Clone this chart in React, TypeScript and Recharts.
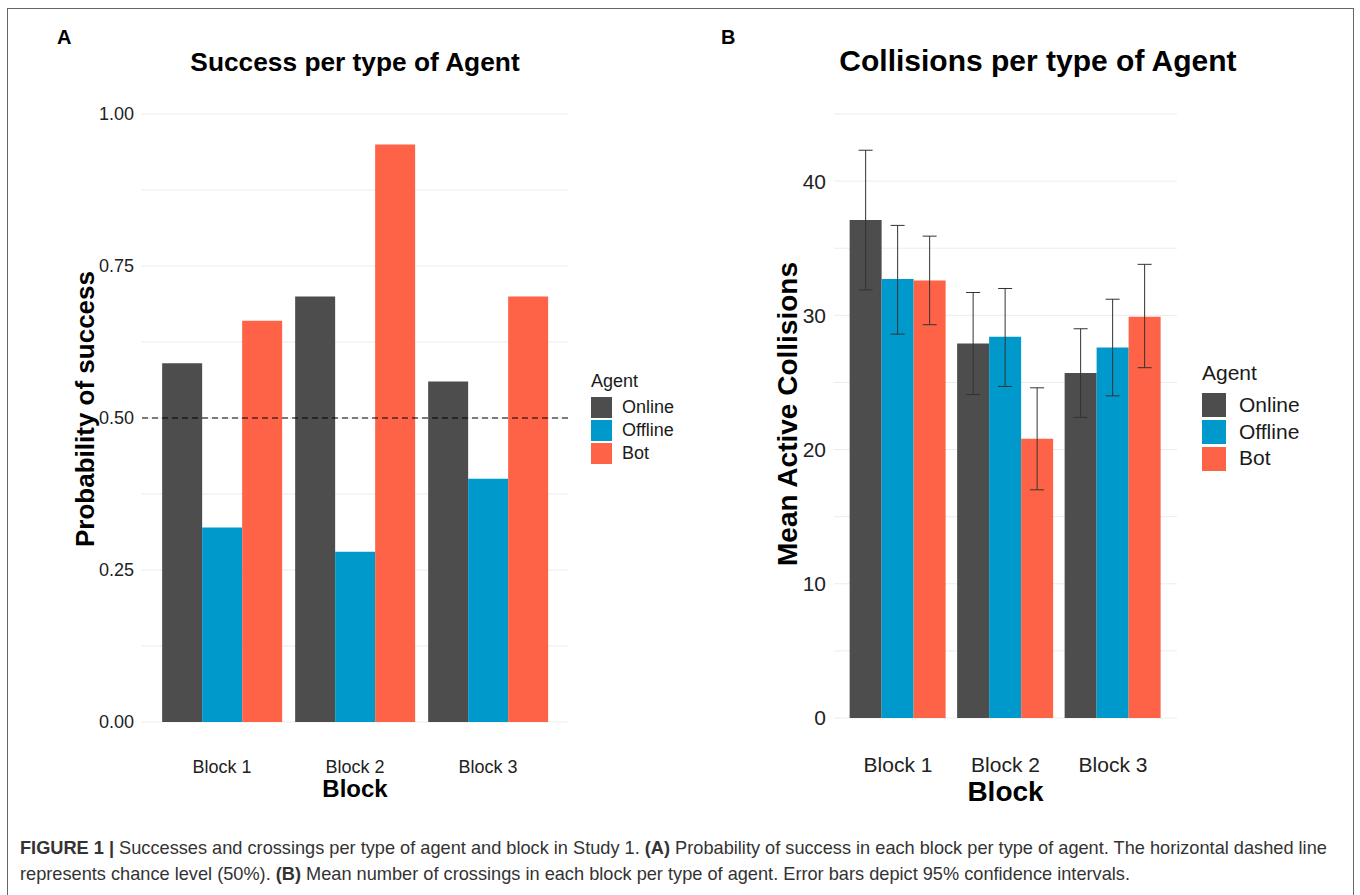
import React from 'react';
import {
  BarChart,
  Bar,
  XAxis,
  YAxis,
  CartesianGrid,
  ReferenceLine,
  ErrorBar,
  Legend
} from 'recharts';

const FONT = '"Liberation Sans", Arial, Helvetica, sans-serif';

const blocks = ['Block 1', 'Block 2', 'Block 3'];
const agents = ['Online', 'Offline', 'Bot'];
const agentColors = ['#4d4d4d', '#0099cc', '#ff6347'];

// (A) probability of success
const successOnline = [0.59, 0.7, 0.56];
const successOffline = [0.32, 0.28, 0.4];
const successBot = [0.66, 0.95, 0.7];
const successTicks = [0, 0.25, 0.5, 0.75, 1];
const successGrid = [0, 0.125, 0.25, 0.375, 0.5, 0.625, 0.75, 0.875, 1];
const chanceLevel = 0.5;

// (B) mean active collisions + 95% CI
const collOnline = [37.1, 27.9, 25.7];
const collOffline = [32.7, 28.4, 27.6];
const collBot = [32.6, 20.8, 29.9];
const ciLowOnline = [31.9, 24.1, 22.4];
const ciHighOnline = [42.3, 31.7, 29.0];
const ciLowOffline = [28.6, 24.7, 24.0];
const ciHighOffline = [36.7, 32.0, 31.2];
const ciLowBot = [29.3, 17.0, 26.1];
const ciHighBot = [35.9, 24.6, 33.8];
const collTicks = [0, 10, 20, 30, 40];
const collGrid = [0, 5, 10, 15, 20, 25, 30, 35, 40, 45];

const successData = blocks.map((block, i) => ({
  block,
  Online: successOnline[i],
  Offline: successOffline[i],
  Bot: successBot[i]
}));

const collData = blocks.map((block, i) => ({
  block,
  Online: collOnline[i],
  Offline: collOffline[i],
  Bot: collBot[i],
  errOnline: [collOnline[i] - ciLowOnline[i], ciHighOnline[i] - collOnline[i]],
  errOffline: [collOffline[i] - ciLowOffline[i], ciHighOffline[i] - collOffline[i]],
  errBot: [collBot[i] - ciLowBot[i], ciHighBot[i] - collBot[i]]
}));

function AgentLegend({ fontSize, box, pitch, gap, titleGap }: any) {
  return (
    <div style={{ fontFamily: FONT, color: '#1a1a1a' }}>
      <div style={{ fontSize, lineHeight: `${fontSize + 3}px`, marginBottom: titleGap }}>Agent</div>
      {agents.map((a, i) => (
        <div key={a} style={{ display: 'flex', alignItems: 'center', height: pitch }}>
          <div style={{ width: box, height: box, background: agentColors[i] }} />
          <div style={{ marginLeft: gap, fontSize, lineHeight: `${pitch}px` }}>{a}</div>
        </div>
      ))}
    </div>
  );
}

const yLabel = (text: string, size: number, dx: number, dy: number) => (props: any) => {
  const { x, y, height } = props.viewBox;
  const cx = x + dx;
  const cy = y + height / 2 + dy;
  return (
    <text
      x={cx}
      y={cy}
      transform={`rotate(-90 ${cx} ${cy})`}
      textAnchor="middle"
      dominantBaseline="central"
      fontFamily={FONT}
      fontWeight="bold"
      fontSize={size}
      fill="#000"
    >
      {text}
    </text>
  );
};

const xLabel = (text: string, size: number, dy: number) => (props: any) => {
  const { x, y, width } = props.viewBox;
  return (
    <text
      x={x + width / 2}
      y={y + dy}
      textAnchor="middle"
      fontFamily={FONT}
      fontWeight="bold"
      fontSize={size}
      fill="#000"
    >
      {text}
    </text>
  );
};

function SuccessChart() {
  return (
    <BarChart
      width={700}
      height={820}
      data={successData}
      margin={{ top: 114, right: 132, bottom: 38, left: 82 }}
      barCategoryGap="5%"
      barGap={0}
    >
      <CartesianGrid vertical={false} stroke="#ececec" horizontalValues={successGrid} />
      <XAxis
        dataKey="block"
        axisLine={false}
        tickLine={false}
        height={60}
        padding={{ left: 13.5, right: 13.5 }}
        tickMargin={32}
        tick={{ fontSize: 18, fill: '#222', fontFamily: FONT }}
        label={xLabel('Block', 24, 75)}
      />
      <YAxis
        type="number"
        domain={[0, 1]}
        ticks={successTicks}
        width={60}
        axisLine={false}
        tickLine={false}
        tickFormatter={(v: number) => v.toFixed(2)}
        tick={{ fontSize: 18, fill: '#222', fontFamily: FONT }}
        label={yLabel('Probability of success', 26, 3, -9)}
      />
      {agents.map((a, i) => (
        <Bar key={a} dataKey={a} fill={agentColors[i]} isAnimationActive={false} />
      ))}
      <ReferenceLine y={chanceLevel} stroke="#000" strokeWidth={1.2} strokeDasharray="6 4" />
      <Legend
        layout="vertical"
        align="center"
        verticalAlign="middle"
        wrapperStyle={{ left: 591, top: 371, width: 110 }}
        content={() => <AgentLegend fontSize={18} box={21} pitch={23} gap={10} titleGap={4} />}
      />
    </BarChart>
  );
}

function CollisionChart() {
  return (
    <BarChart
      width={660}
      height={820}
      data={collData}
      margin={{ top: 114, right: 183, bottom: 42, left: 74 }}
      barCategoryGap="5%"
      barGap={0}
    >
      <CartesianGrid vertical={false} stroke="#ececec" horizontalValues={collGrid} />
      <XAxis
        dataKey="block"
        axisLine={false}
        tickLine={false}
        height={60}
        padding={{ left: 10.25, right: 10.25 }}
        tickMargin={33}
        tick={{ fontSize: 21, fill: '#222', fontFamily: FONT }}
        label={xLabel('Block', 28, 83)}
      />
      <YAxis
        type="number"
        domain={[0, 45]}
        ticks={collTicks}
        width={60}
        axisLine={false}
        tickLine={false}
        tick={{ fontSize: 21, fill: '#222', fontFamily: FONT }}
        label={yLabel('Mean Active Collisions', 28, 13, -2)}
      />
      {agents.map((a, i) => (
        <Bar key={a} dataKey={a} fill={agentColors[i]} isAnimationActive={false}>
          <ErrorBar
            dataKey={`err${a}`}
            width={7}
            stroke="#333"
            strokeWidth={1}
            isAnimationActive={false}
          />
        </Bar>
      ))}
      <Legend
        layout="vertical"
        align="center"
        verticalAlign="middle"
        wrapperStyle={{ left: 502, top: 361, width: 140 }}
        content={() => <AgentLegend fontSize={21} box={24} pitch={26.7} gap={13} titleGap={7} />}
      />
    </BarChart>
  );
}

export default function App() {
  return (
    <div
      style={{
        position: 'absolute',
        left: 0,
        top: 0,
        width: 1360,
        height: 895,
        overflow: 'hidden',
        background: '#fff',
        fontFamily: FONT
      }}
    >
      <div
        style={{
          position: 'absolute',
          left: 7,
          top: 8,
          width: 1345,
          height: 950,
          border: '1.5px solid #666'
        }}
      />
      <div style={{ position: 'absolute', left: 0, top: 0 }}>
        <SuccessChart />
      </div>
      <div style={{ position: 'absolute', left: 700, top: 0 }}>
        <CollisionChart />
      </div>
      <svg
        width={1360}
        height={120}
        style={{ position: 'absolute', left: 0, top: 0, pointerEvents: 'none' }}
      >
        <text x={57} y={44} fontFamily={FONT} fontWeight="bold" fontSize={20} fill="#000">
          A
        </text>
        <text x={721} y={44} fontFamily={FONT} fontWeight="bold" fontSize={20} fill="#000">
          B
        </text>
        <text x={355} y={71} textAnchor="middle" fontFamily={FONT} fontWeight="bold" fontSize={26.3} fill="#000">
          Success per type of Agent
        </text>
        <text x={1038} y={71} textAnchor="middle" fontFamily={FONT} fontWeight="bold" fontSize={30} fill="#000">
          Collisions per type of Agent
        </text>
      </svg>
      <div
        style={{
          position: 'absolute',
          left: 20,
          top: 835,
          fontSize: 18.2,
          lineHeight: '26px',
          color: '#333',
          whiteSpace: 'nowrap'
        }}
      >
        <b>FIGURE 1 |</b> Successes and crossings per type of agent and block in Study 1. <b>(A)</b> Probability of
        success in each block per type of agent. The horizontal dashed line
        <br />
        represents chance level (50%). <b>(B)</b> Mean number of crossings in each block per type of agent. Error bars
        depict 95% confidence intervals.
      </div>
    </div>
  );
}
